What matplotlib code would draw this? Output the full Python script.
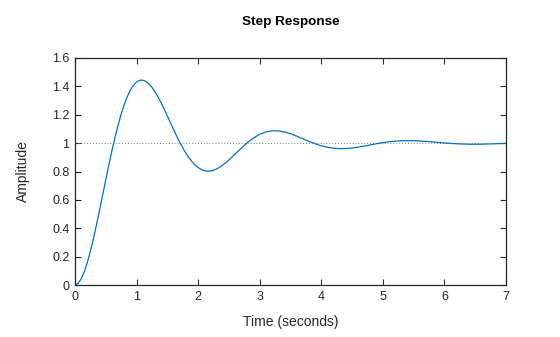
import numpy as np
import matplotlib.pyplot as plt

plt.rcParams['font.family'] = ['Liberation Sans', 'DejaVu Sans']

# step response: every 0.05 s up to 2.5 s, then every 0.1 s
t = [0.00, 0.05, 0.10, 0.15, 0.20, 0.25, 0.30, 0.35, 0.40, 0.45,
     0.50, 0.55, 0.60, 0.65, 0.70, 0.75, 0.80, 0.85, 0.90, 0.95,
     1.00, 1.05, 1.10, 1.15, 1.20, 1.25, 1.30, 1.35, 1.40, 1.45,
     1.50, 1.55, 1.60, 1.65, 1.70, 1.75, 1.80, 1.85, 1.90, 1.95,
     2.00, 2.05, 2.10, 2.15, 2.20, 2.25, 2.30, 2.35, 2.40, 2.45,
     2.5, 2.6, 2.7, 2.8, 2.9, 3.0, 3.1, 3.2, 3.3, 3.4,
     3.5, 3.6, 3.7, 3.8, 3.9, 4.0, 4.1, 4.2, 4.3, 4.4,
     4.5, 4.6, 4.7, 4.8, 4.9, 5.0, 5.1, 5.2, 5.3, 5.4,
     5.5, 5.6, 5.7, 5.8, 5.9, 6.0, 6.1, 6.2, 6.3, 6.4,
     6.5, 6.6, 6.7, 6.8, 6.9, 7.0]
amp = [0.0000, 0.0109, 0.0425, 0.0925, 0.1585, 0.2380, 0.3282, 0.4261, 0.5307, 0.6362,
       0.7425, 0.8469, 0.9470, 1.0408, 1.1271, 1.2045, 1.2722, 1.3281, 1.3745, 1.4085,
       1.4304, 1.4427, 1.4437, 1.4356, 1.4181, 1.3933, 1.3616, 1.3242, 1.2836, 1.2384,
       1.1914, 1.1444, 1.0972, 1.0516, 1.0077, 0.9674, 0.9303, 0.8977, 0.8694, 0.8460,
       0.8277, 0.8145, 0.8062, 0.8027, 0.8037, 0.8089, 0.8179, 0.8302, 0.8452, 0.8625,
       0.8816, 0.9226, 0.9644, 1.0034, 1.0365, 1.0620, 1.0790, 1.0869, 1.0866, 1.0791,
       1.0661, 1.0494, 1.0309, 1.0125, 0.9956, 0.9814, 0.9707, 0.9640, 0.9611, 0.9619,
       0.9658, 0.9719, 0.9795, 0.9878, 0.9959, 1.0033, 1.0093, 1.0137, 1.0164, 1.0173,
       1.0167, 1.0148, 1.0119, 1.0084, 1.0048, 1.0012, 0.9980, 0.9955, 0.9936, 0.9926,
       0.9923, 0.9927, 0.9936, 0.9950, 0.9966, 0.9982]
final_value = 1.0

xticks = [0, 1, 2, 3, 4, 5, 6, 7]
yticks = [0, 0.2, 0.4, 0.6, 0.8, 1, 1.2, 1.4, 1.6]
ytick_labels = ['0', '0.2', '0.4', '0.6', '0.8', '1', '1.2', '1.4', '1.6']

fig = plt.figure(figsize=(5.6, 3.37), dpi=100)
ax = fig.add_axes([75 / 560, (337 - 285) / 337, 431 / 560, 227 / 337])

ax.axhline(final_value, color='#808080', linestyle=(0, (1, 2)), linewidth=0.7)
ax.plot(t, amp, color='#0072BD', linewidth=0.9)

ax.set_xlim(0, 7)
ax.set_ylim(0, 1.6)
ax.set_xticks(xticks)
ax.set_yticks(yticks)
ax.set_yticklabels(ytick_labels)

dark = '#262626'
for s in ax.spines.values():
    s.set_color(dark)
    s.set_linewidth(0.9)
ax.tick_params(direction='in', length=4, width=0.8, colors=dark, labelsize=9,
               top=True, right=True, pad=4)

ax.set_title('Step Response', fontsize=9.7, fontweight='bold', color='black', pad=24)
ax.set_xlabel('Time (seconds)', fontsize=10, color=dark, labelpad=9)
ax.set_ylabel('Amplitude', fontsize=10, color=dark, labelpad=16)

fig.savefig('out.png', dpi=100)
